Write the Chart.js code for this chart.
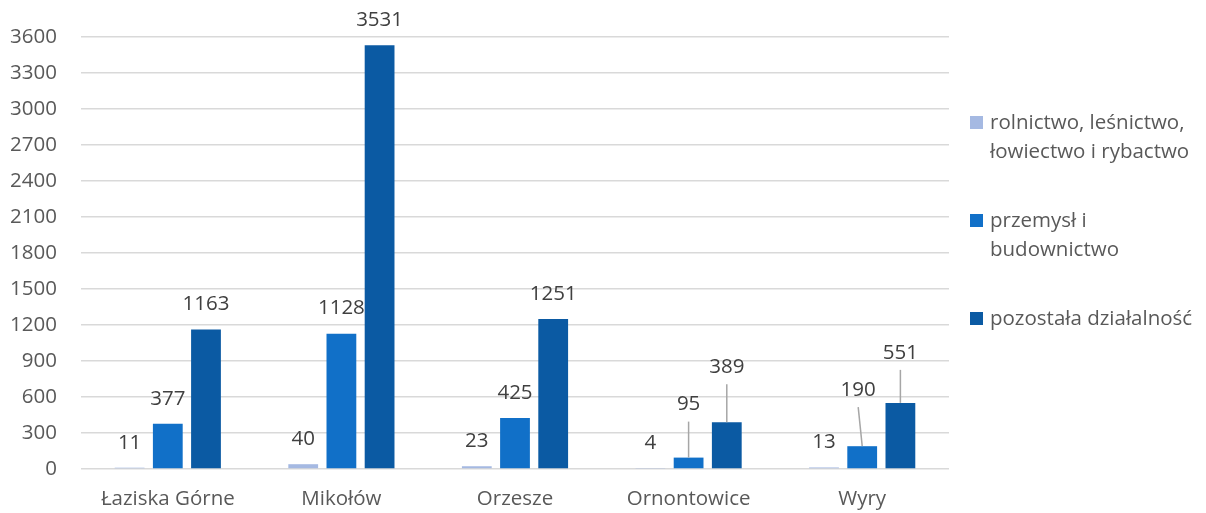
<!DOCTYPE html>
<html>
<head>
<meta charset="utf-8">
<script src="https://cdn.jsdelivr.net/npm/chart.js@4"></script>
<style>
    body { margin: 0; background: #fff; }
    #wrap { width: 1206px; height: 513px; position: relative; }
</style>
</head>
<body>
<div id="wrap"><canvas id="chart"></canvas></div>
<script>
// data
const categories = ['Łaziska Górne', 'Mikołów', 'Orzesze', 'Ornontowice', 'Wyry'];
const seriesNames = [
    ['rolnictwo, leśnictwo,', 'łowiectwo i rybactwo'],
    ['przemysł i', 'budownictwo'],
    ['pozostała działalność']
];
const rolnictwo = [11, 40, 23, 4, 13];
const przemysl = [377, 1128, 425, 95, 190];
const pozostala = [1163, 3531, 1251, 389, 551];
const yTicks = [0, 300, 600, 900, 1200, 1500, 1800, 2100, 2400, 2700, 3000, 3300, 3600];

const colors = ['#a5b9e2', '#1170c8', '#0b5aa3'];
const font = '"Open Sans", "Liberation Sans", sans-serif';

// how far above the bar top each value label sits (px); bigger ones get a leader line
const labelShift = [
    [25, 25, 25, 25, 25],
    [25, 25, 25, 53, 56],
    [25, 25, 25, 55, 50]
];
const labelDx = [
    [0, 0, 0, 0, 0],
    [0, 0, 0, 0, -4],
    [0, 0, 0, 0, 0]
];

const valueLabels = {
    id: 'valueLabels',
    afterDatasetsDraw(chart) {
        const ctx = chart.ctx;
        ctx.save();
        ctx.font = '20.5px ' + font;
        ctx.textAlign = 'center';
        ctx.textBaseline = 'middle';
        chart.data.datasets.forEach((ds, i) => {
            const meta = chart.getDatasetMeta(i);
            meta.data.forEach((bar, j) => {
                const shift = labelShift[i][j];
                const lx = bar.x + labelDx[i][j];
                const ly = bar.y - shift;
                if (shift > 40) {
                    ctx.strokeStyle = '#a6a6a6';
                    ctx.lineWidth = 1.5;
                    ctx.beginPath();
                    ctx.moveTo(lx, ly + 17);
                    ctx.lineTo(bar.x, bar.y);
                    ctx.stroke();
                }
                ctx.fillStyle = '#404040';
                ctx.fillText(String(ds.data[j]), lx, ly);
            });
        });
        ctx.restore();
    }
};

const sideLegend = {
    id: 'sideLegend',
    afterDraw(chart) {
        const ctx = chart.ctx;
        ctx.save();
        ctx.font = '20.5px ' + font;
        ctx.textAlign = 'left';
        ctx.textBaseline = 'middle';
        let y = 123;
        chart.data.datasets.forEach((ds, i) => {
            ctx.fillStyle = colors[i];
            ctx.fillRect(970, y - 7, 13, 13);
            ctx.fillStyle = '#595959';
            seriesNames[i].forEach((line, k) => {
                ctx.fillText(line, 990, y + k * 29);
            });
            y += (seriesNames[i].length - 1) * 29 + 69;
        });
        ctx.restore();
    }
};

const datasets = [rolnictwo, przemysl, pozostala].map((vals, i) => ({
    label: seriesNames[i].join(' '),
    data: vals,
    backgroundColor: colors[i],
    categoryPercentage: 0.66,
    barPercentage: 0.78
}));

new Chart(document.getElementById('chart'), {
    type: 'bar',
    data: { labels: categories, datasets: datasets },
    options: {
        responsive: true,
        maintainAspectRatio: false,
        animation: false,
        layout: { padding: { top: 37, right: 257, bottom: 0, left: 0 } },
        plugins: {
            legend: { display: false },
            tooltip: { enabled: false }
        },
        scales: {
            x: {
                grid: { display: false, drawTicks: false },
                border: { display: false },
                ticks: { color: '#595959', font: { family: font, size: 20.5 }, padding: 18 },
                afterFit(scale) { scale.height = 44; }
            },
            y: {
                min: 0,
                max: 3600,
                afterBuildTicks(scale) { scale.ticks = yTicks.map(v => ({ value: v })); },
                grid: { color: '#d9d9d9', lineWidth: 1.5, drawTicks: false },
                border: { display: false },
                ticks: {
                    color: '#595959',
                    font: { family: font, size: 20.5 },
                    padding: 24,
                    callback: (v) => String(v)
                },
                afterFit(scale) { scale.width = 81; }
            }
        }
    },
    plugins: [valueLabels, sideLegend]
});
</script>
</body>
</html>
